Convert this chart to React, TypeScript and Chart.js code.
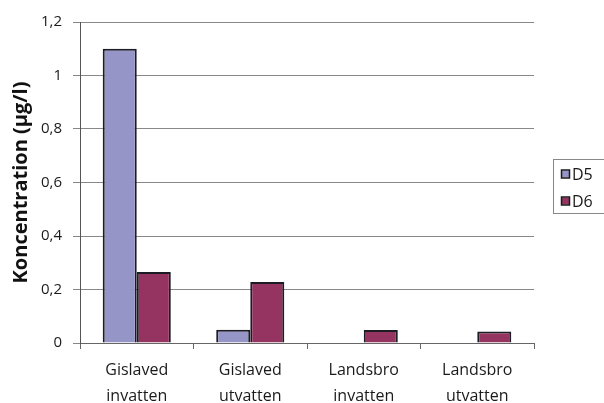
import React, { useEffect, useRef } from "react";
import { Chart, registerables } from "chart.js";

Chart.register(...registerables);

const categories: string[][] = [
  ["Gislaved", "invatten"],
  ["Gislaved", "utvatten"],
  ["Landsbro", "invatten"],
  ["Landsbro", "utvatten"],
];
const seriesNames = ["D5", "D6"];
const d5Values = [1.1, 0.05, 0, 0];
const d6Values = [0.265, 0.228, 0.049, 0.043];
const yTicks = [0, 0.2, 0.4, 0.6, 0.8, 1, 1.2];
const seriesColors = ["#9595C8", "#953461"];

const FONT = "'Open Sans', 'DejaVu Sans', sans-serif";

// Boxed legend drawn to the right of the plot area
const boxedLegend = {
  id: "boxedLegend",
  afterDraw(chart: any) {
    const ctx = chart.ctx;
    const x = 553.5;
    const y = 159.5;
    const w = 60;
    const h = 54;
    ctx.save();
    ctx.strokeStyle = "#888";
    ctx.lineWidth = 1;
    ctx.strokeRect(x, y, w, h);
    ctx.font = `16px ${FONT}`;
    ctx.textBaseline = "middle";
    chart.data.datasets.forEach((ds: any, i: number) => {
      const cy = 174 + i * 27;
      ctx.fillStyle = ds.backgroundColor;
      ctx.fillRect(562, cy - 3.5, 7, 7);
      ctx.strokeStyle = "#1a1a1a";
      ctx.lineWidth = 1.5;
      ctx.strokeRect(561.5, cy - 4, 8, 8);
      ctx.fillStyle = "#1a1a1a";
      ctx.fillText(ds.label, 572, cy + 1);
    });
    ctx.restore();
  },
};

export default function App() {
  const canvasRef = useRef<HTMLCanvasElement | null>(null);

  useEffect(() => {
    if (!canvasRef.current) return;
    const chart = new Chart(canvasRef.current, {
      type: "bar",
      data: {
        labels: categories,
        datasets: [
          {
            label: seriesNames[0],
            data: d5Values,
            backgroundColor: seriesColors[0],
            borderColor: "#1c1c24",
            borderWidth: 2,
          },
          {
            label: seriesNames[1],
            data: d6Values,
            backgroundColor: seriesColors[1],
            borderColor: "#1c1c24",
            borderWidth: 2,
          },
        ],
      },
      options: {
        responsive: false,
        animation: false,
        layout: { padding: { top: 22, right: 70, left: 0, bottom: 0 } },
        plugins: {
          legend: { display: false },
          tooltip: { enabled: false },
        },
        datasets: {
          bar: { categoryPercentage: 0.6, barPercentage: 1.0 },
        },
        scales: {
          x: {
            grid: {
              offset: true,
              drawOnChartArea: false,
              drawTicks: true,
              tickLength: 6,
              color: "#666",
            },
            border: { color: "#666", width: 1 },
            ticks: {
              color: "#1a1a1a",
              font: { family: FONT, size: 16, lineHeight: 1.6 },
              padding: 9,
              maxRotation: 0,
            },
            afterFit(scale: any) {
              scale.height = 60;
            },
          },
          y: {
            min: 0,
            max: 1.2,
            afterBuildTicks(scale: any) {
              scale.ticks = yTicks.map((v) => ({ value: v }));
            },
            grid: {
              color: "#888",
              lineWidth: 1,
              drawTicks: true,
              tickLength: 7,
            },
            border: { color: "#555", width: 1 },
            ticks: {
              color: "#1a1a1a",
              font: { family: FONT, size: 15 },
              padding: 11,
              callback: (v: any) => String(Number(v).toFixed(1)).replace(/\.0$/, "").replace(".", ","),
            },
            title: {
              display: true,
              text: "Koncentration (µg/l)",
              color: "#111",
              font: { family: FONT, size: 20, weight: "bold" },
              padding: { top: 9, bottom: 0 },
            },
            afterFit(scale: any) {
              scale.width = 80;
            },
          },
        },
      },
      plugins: [boxedLegend],
    });
    return () => chart.destroy();
  }, []);

  return (
    <div style={{ position: "fixed", left: 0, top: 0, width: 604, height: 403, background: "#fff" }}>
      <canvas ref={canvasRef} width={604} height={403} style={{ display: "block" }} />
    </div>
  );
}
